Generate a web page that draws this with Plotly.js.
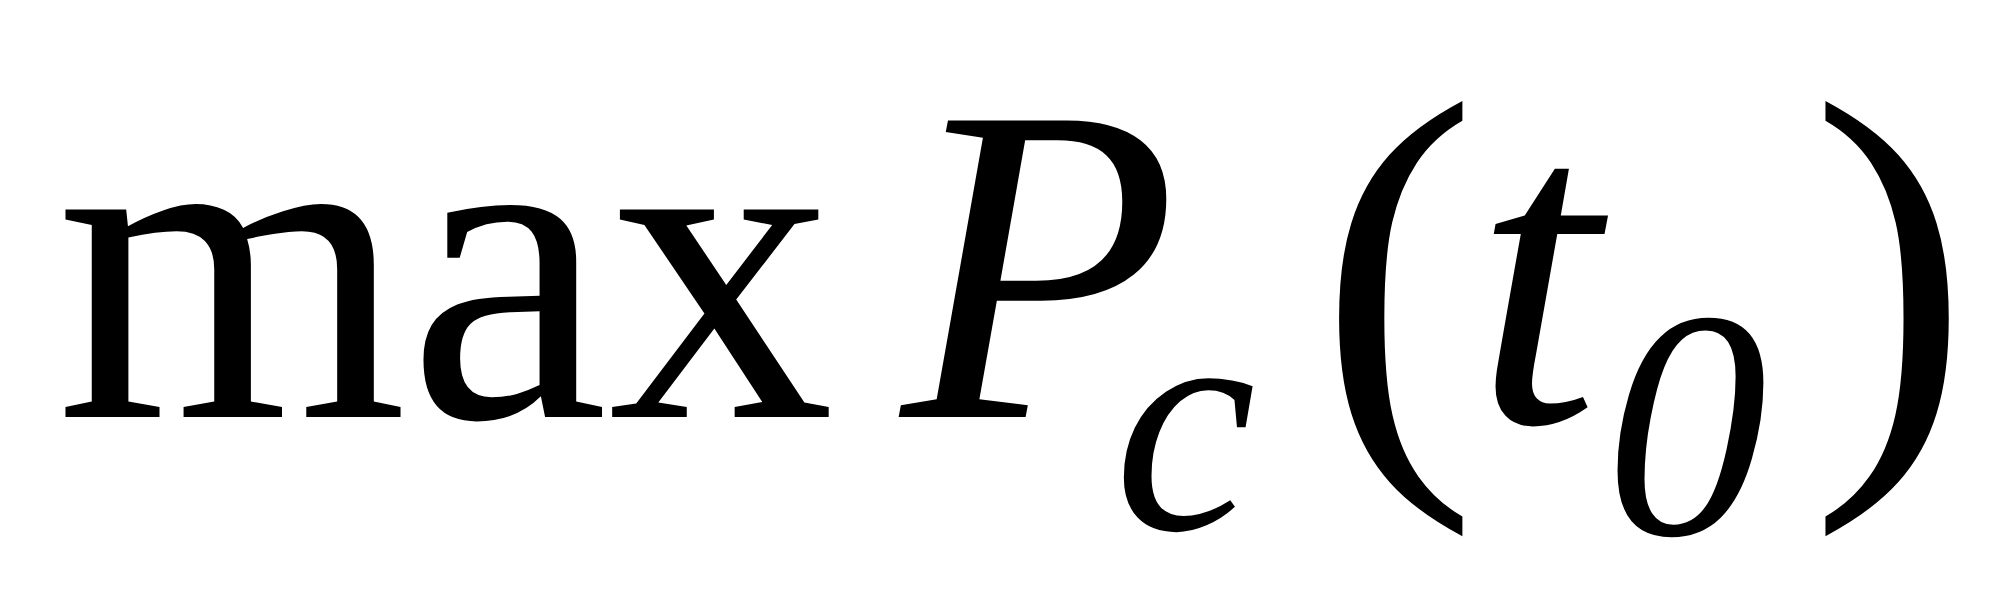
<!DOCTYPE html>
<html>
<head>
<meta charset="utf-8">
<script src="https://cdn.plot.ly/plotly-3.0.1.min.js"></script>
<style>
  html, body { margin: 0; padding: 0; background: #fff; }
  #chart { width: 2016px; height: 608px; }
</style>
</head>
<body>
<div id="chart"></div>
<script>
// Formula: max P_c(t_0)
const tokens = ["max", "P", "c", "(", "t", "0", ")"];
const italic = [false, true, true, false, true, true, false];

// placement in pixels: centre x, centre y, font size
const place = [
  { x: 445, y: 264, size: 452 },
  { x: 1036, y: 264, size: 453 },
  { x: 1185, y: 421, size: 320 },
  { x: 1398, y: 272, size: 480 },
  { x: 1544, y: 270, size: 450 },
  { x: 1686, y: 424, size: 325 },
  { x: 1890, y: 272, size: 480 },
];

const W = 2016, H = 608;

const annotations = tokens.map((t, i) => ({
  text: t,
  xref: "paper",
  yref: "paper",
  x: place[i].x / W,
  y: 1 - place[i].y / H,
  xanchor: "center",
  yanchor: "middle",
  showarrow: false,
  font: {
    family: '"Times New Roman", "Liberation Serif", Times, serif',
    size: place[i].size,
    color: "#000",
    style: italic[i] ? "italic" : "normal",
  },
}));

const layout = {
  width: W,
  height: H,
  margin: { l: 0, r: 0, t: 0, b: 0 },
  paper_bgcolor: "#fff",
  plot_bgcolor: "#fff",
  font: { family: '"Times New Roman", "Liberation Serif", Times, serif' },
  xaxis: { visible: false, range: [0, 1] },
  yaxis: { visible: false, range: [0, 1] },
  showlegend: false,
  annotations,
};

Plotly.newPlot("chart", [], layout, { displayModeBar: false, staticPlot: true });
</script>
</body>
</html>
